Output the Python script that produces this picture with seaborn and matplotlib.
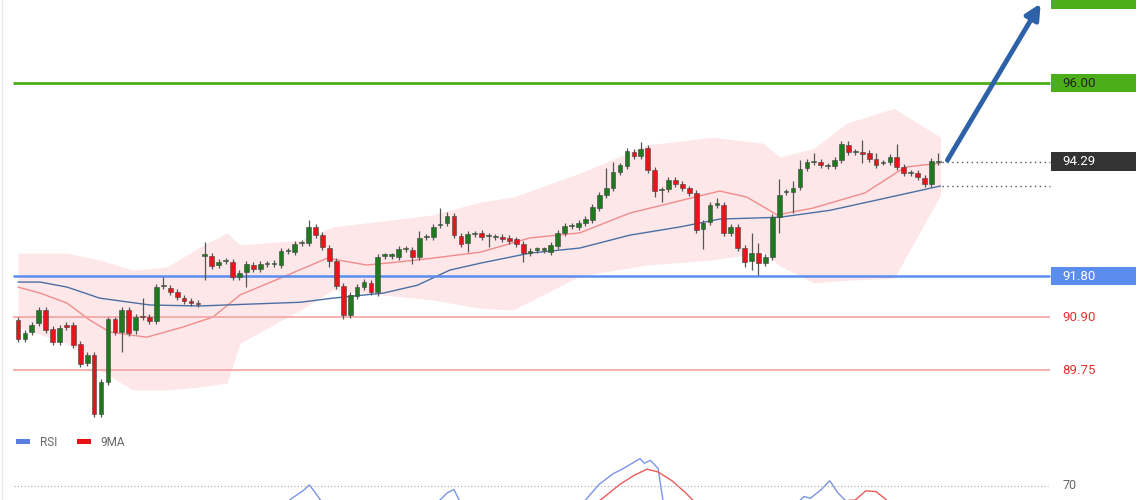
import numpy as np
import pandas as pd
import matplotlib
matplotlib.use("Agg")
import matplotlib.pyplot as plt
import seaborn as sns
from matplotlib.patches import Rectangle

# ---------------- data ----------------
opens = [90.84, 90.43, 90.58, 90.78, 91.06, 90.65, 90.36, 90.73, 90.73, 90.32,
         89.91, 90.08, 88.80, 89.49, 90.86, 90.58, 91.06, 90.62, 90.93, 90.91,
         90.82, 91.58, 91.54, 91.45, 91.32, 91.26, 91.21, 92.24, 92.24, 92.04,
         92.13, 92.11, 91.78, 91.89, 92.04, 91.95, 92.06, 92.06, 92.04, 92.34,
         92.32, 92.52, 92.52, 92.87, 92.69, 92.41, 92.13, 91.58, 90.95, 91.37,
         91.56, 91.65, 91.45, 92.24, 92.24, 92.21, 92.39, 92.37, 92.21, 92.65,
         92.65, 92.91, 92.95, 93.11, 92.67, 92.52, 92.71, 92.74, 92.67, 92.65,
         92.65, 92.63, 92.60, 92.50, 92.30, 92.37, 92.37, 92.32, 92.45, 92.74,
         92.89, 92.87, 92.95, 93.02, 93.28, 93.56, 93.71, 94.06, 94.19, 94.50,
         94.41, 94.59, 94.11, 93.67, 93.69, 93.89, 93.80, 93.71, 93.61, 92.82,
         92.98, 93.35, 93.35, 92.74, 92.87, 92.41, 92.13, 92.30, 92.08, 92.21,
         93.08, 93.63, 93.63, 93.74, 94.15, 94.28, 94.28, 94.19, 94.19, 94.32,
         94.65, 94.50, 94.50, 94.48, 94.35, 94.26, 94.28, 94.39, 94.17, 94.04,
         94.04, 93.93, 93.80, 94.28]
closes = [90.43, 90.56, 90.73, 91.06, 90.62, 90.36, 90.67, 90.69, 90.30, 89.89,
          90.08, 88.80, 89.49, 90.86, 90.58, 91.06, 90.56, 90.91, 90.91, 90.82,
          91.56, 91.58, 91.45, 91.34, 91.26, 91.21, 91.19, 92.26, 92.02, 92.11,
          92.13, 91.78, 91.87, 92.06, 91.95, 92.06, 92.06, 92.08, 92.34, 92.34,
          92.50, 92.52, 92.87, 92.69, 92.43, 92.13, 91.58, 90.95, 91.39, 91.56,
          91.67, 91.45, 92.21, 92.24, 92.24, 92.39, 92.39, 92.21, 92.63, 92.65,
          92.87, 92.91, 93.11, 92.69, 92.50, 92.71, 92.71, 92.65, 92.67, 92.65,
          92.60, 92.56, 92.50, 92.30, 92.34, 92.37, 92.37, 92.48, 92.74, 92.89,
          92.89, 92.95, 93.04, 93.30, 93.56, 93.71, 94.06, 94.21, 94.52, 94.41,
          94.56, 94.11, 93.65, 93.67, 93.89, 93.80, 93.71, 93.61, 92.80, 92.95,
          93.35, 93.35, 92.74, 92.87, 92.41, 92.11, 92.30, 92.08, 92.21, 93.08,
          93.56, 93.63, 93.71, 94.13, 94.28, 94.28, 94.21, 94.19, 94.32, 94.67,
          94.50, 94.50, 94.46, 94.35, 94.21, 94.26, 94.39, 94.17, 94.04, 94.04,
          93.95, 93.80, 94.30, 94.29]

# long wicks (candle index, price); other wicks are short
wick_hi_idx = [18, 21, 27, 42, 58, 61, 62, 85, 86, 90, 101, 106, 107, 110, 112, 113, 115, 120, 122, 124, 127, 133]
wick_hi_val = [91.32, 91.78, 92.54, 93.02, 92.78, 93.28, 93.20, 94.15, 94.28, 94.71, 93.50, 92.74, 92.52, 93.91, 93.87, 94.32, 94.48, 94.74, 94.76, 94.48, 94.67, 94.48]
wick_lo_idx = [11, 15, 17, 27, 33, 45, 47, 52, 57, 65, 68, 73, 92, 93, 99, 105, 106, 107, 110, 112, 122, 125]
wick_lo_val = [88.73, 90.15, 90.54, 91.71, 91.56, 91.99, 90.86, 91.37, 92.06, 92.32, 92.43, 92.11, 93.52, 93.41, 92.39, 92.00, 91.93, 91.82, 92.74, 93.17, 94.26, 94.21]

# indicators, sparse readings (candle index, price)
ma_slow_idx = [0, 3.2, 7.1, 11.8, 19.1, 26.3, 33.5, 40.8, 45.5, 52.8, 57.7, 62.4, 66.8, 74.0, 81.2, 88.4, 95.7, 101.4, 110.1, 117.3, 124.6, 133.3]
ma_slow_val = [91.67, 91.67, 91.56, 91.32, 91.17, 91.15, 91.19, 91.23, 91.32, 91.43, 91.60, 91.93, 92.08, 92.30, 92.41, 92.69, 92.87, 93.04, 93.08, 93.23, 93.47, 93.76]
ma_fast_idx = [0, 3.2, 7.1, 10.4, 13.3, 18.6, 23.8, 28.2, 32.1, 38.3, 44.7, 50.4, 55.2, 59.9, 66.8, 74.0, 81.2, 88.4, 101.4, 105.3, 109.7, 114.9, 122.4, 128.2, 133.3]
ma_fast_val = [91.56, 91.43, 91.21, 90.84, 90.58, 90.47, 90.69, 90.91, 91.39, 91.78, 92.19, 92.04, 92.11, 92.19, 92.32, 92.63, 92.74, 93.17, 93.65, 93.52, 93.13, 93.28, 93.61, 94.17, 94.26]
bb_idx = [0, 7.1, 11.8, 16.6, 21.5, 26.3, 30.2, 32.1, 40.8, 45.5, 59.9, 66.8, 71.5, 81.2, 90.9, 100.4, 107.7, 110.1, 115.0, 119.8, 126.6, 133.3]
bb_upper = [92.30, 92.30, 92.15, 91.93, 92.00, 92.43, 92.74, 92.48, 92.58, 92.87, 93.13, 93.41, 93.52, 94.04, 94.65, 94.82, 94.69, 94.39, 94.58, 95.13, 95.45, 94.82]
bb_lower = [90.69, 90.34, 89.76, 89.32, 89.32, 89.39, 89.47, 90.34, 91.06, 91.50, 91.28, 91.10, 91.06, 91.80, 92.04, 92.15, 92.32, 92.02, 91.65, 91.71, 91.75, 93.56]

# RSI panel (candle index, value)
rsi_idx = [36.0, 38.9, 41.4, 42.1, 43.0, 44.4, 58.0, 61.0, 62.0, 63.0, 64.0, 80.0, 82.0, 84.0, 86.0, 87.5, 88.5, 89.9, 90.5, 91.4, 92.5, 93.5, 112.0, 113.6, 114.5, 116.1, 117.3, 118.5, 120.5]
rsi_val = [62.0, 65.5, 69.0, 70.3, 68.0, 64.0, 63.0, 66.0, 68.0, 69.0, 65.0, 62.0, 66.0, 70.5, 73.5, 75.0, 76.2, 77.8, 76.5, 77.3, 75.0, 62.0, 64.0, 67.0, 66.5, 69.0, 71.5, 68.0, 64.0]
ma9_idx = [82.0, 84.5, 87.0, 89.0, 90.9, 92.5, 94.5, 96.5, 99.0, 121.0, 122.5, 124.0, 125.5]
ma9_val = [63.0, 66.5, 70.5, 73.0, 74.8, 74.0, 71.5, 68.0, 63.0, 66.0, 68.6, 68.4, 66.0]

levels = [96.00, 91.80, 90.90, 89.75]
last_price = 94.29
prev_low = 93.75

# ---------------- layout ----------------
W, H = 1140, 500
X0, DX = 18, 6.92          # first candle pixel / spacing
P_TOP, P_BOT = 97.806, 88.56

sns.set_style("white")
plt.rcParams["font.family"] = ["Roboto", "DejaVu Sans"]

fig = plt.figure(figsize=(W / 100, H / 100), dpi=100)
ax = fig.add_axes([0, 75 / H, 1, 425 / H])
ax2 = fig.add_axes([0, 0, 1, 75 / H])
xlim = (-X0 / DX, (W - X0) / DX)
for a in (ax, ax2):
    a.set_xlim(*xlim)
    a.set_axis_off()
ax.set_ylim(P_BOT, P_TOP)


def px_to_idx(px):
    return (px - X0) / DX


# Bollinger band cloud + moving averages
ax.fill_between(bb_idx, bb_lower, bb_upper, color="#fde3e4", alpha=0.85, lw=0, zorder=1)
bb_df = pd.DataFrame({"i": ma_fast_idx, "v": ma_fast_val})
sns.lineplot(data=bb_df, x="i", y="v", ax=ax, color="#f08c8c", lw=1.0, zorder=2)
slow_df = pd.DataFrame({"i": ma_slow_idx, "v": ma_slow_val})
sns.lineplot(data=slow_df, x="i", y="v", ax=ax, color="#4a6fa5", lw=1.0, zorder=2)
ax.set_xlim(*xlim)
ax.set_ylim(P_BOT, P_TOP)
ax.set_axis_off()

# horizontal levels
x_end = px_to_idx(1050)
ax.hlines(levels[0], xlim[0] + 13 / DX, x_end, color="#4caf1a", lw=2, zorder=3)
ax.hlines(levels[1], xlim[0] + 13 / DX, x_end, color="#5b8def", lw=1.8, zorder=3)
ax.hlines(levels[2:], xlim[0] + 13 / DX, x_end, color="#f4a3a3", lw=1.2, zorder=3)

# candles
n = len(opens)
idx = np.arange(n)
highs = np.maximum(opens, closes) + 0.06
lows = np.minimum(opens, closes) - 0.06
highs[wick_hi_idx] = wick_hi_val
lows[wick_lo_idx] = wick_lo_val
up = np.array(closes) >= np.array(opens)
ax.vlines(idx, lows, highs, color="#555555", lw=0.9, zorder=4)
body_lo = np.minimum(opens, closes)
body_h = np.maximum(np.abs(np.array(closes) - np.array(opens)), 0.03)
ax.bar(idx, body_h, bottom=body_lo, width=0.68,
       color=np.where(up, "#1f7a1f", "#e8141b"), edgecolor="#444444", lw=0.4, zorder=5)

# dotted guides from last candle
ax.hlines([last_price, prev_low], n - 0.5, x_end, color="#555555", lw=1, ls=(0, (1, 2.5)), zorder=3)

# arrow
ax.annotate("", xy=(px_to_idx(1042), 97.78), xytext=(px_to_idx(946), last_price - 0.02),
            arrowprops=dict(arrowstyle="-|>,head_width=0.45,head_length=0.9",
                            color="#2e62a8", lw=3.5), zorder=6, annotation_clip=False)

# right-hand labels
def box_label(price, text, face, tcolor):
    ax.add_patch(Rectangle((px_to_idx(1051), price - 0.2), 85 / DX, 0.4,
                           facecolor=face, edgecolor="none", zorder=7, clip_on=False))
    ax.text(px_to_idx(1062), price, text, color=tcolor, fontsize=9.5,
            va="center", ha="left", zorder=8)

box_label(levels[0], "96.00", "#4caf1a", "#222222")
box_label(levels[1], "91.80", "#5b8def", "white")
box_label(last_price, "94.29", "#333333", "white")
ax.add_patch(Rectangle((px_to_idx(1051), 97.62), 85 / DX, 0.4,
                       facecolor="#4caf1a", edgecolor="none", zorder=7, clip_on=False))
for lv in levels[2:]:
    ax.text(px_to_idx(1062), lv, f"{lv:.2f}", color="#e83030", fontsize=9.5,
            va="center", ha="left", zorder=8)

# left border + separator
ax.axvline(px_to_idx(2), color="#e6e9ef", lw=1)
ax2.axvline(px_to_idx(2), color="#e6e9ef", lw=1)
ax.axhline(P_BOT + 0.01, color="#dddddd", lw=0.8, ls=(0, (1, 2)))

# ---------------- RSI panel ----------------
ax2.set_ylim(66.0, 87.4)
rsi_df = pd.DataFrame({"i": rsi_idx, "v": rsi_val})
ma9_df = pd.DataFrame({"i": ma9_idx, "v": ma9_val})
sns.lineplot(data=rsi_df, x="i", y="v", ax=ax2, color="#7a95e6", lw=1.0)
sns.lineplot(data=ma9_df, x="i", y="v", ax=ax2, color="#ef5a5a", lw=1.0)
ax2.set_xlim(*xlim)
ax2.set_ylim(66.0, 87.4)
ax2.set_axis_off()
ax2.hlines(70, px_to_idx(14), px_to_idx(1048), color="#aaaaaa", lw=0.8, ls=(0, (1, 2)))
ax2.text(px_to_idx(1062), 70, "70", color="#666666", fontsize=9, va="center")

fig.patches.append(Rectangle((16 / W, 1 - 444 / H), 14 / W, 5 / H, transform=fig.transFigure,
                             facecolor="#5b7fe0", edgecolor="none"))
fig.text(40 / W, 1 - 442 / H, "RSI", color="#666666", fontsize=8.5, va="center")
fig.patches.append(Rectangle((77 / W, 1 - 444 / H), 14 / W, 5 / H, transform=fig.transFigure,
                             facecolor="#e81010", edgecolor="none"))
fig.text(100 / W, 1 - 442 / H, "9MA", color="#666666", fontsize=8.5, va="center")

fig.savefig("out.png", dpi=100)
